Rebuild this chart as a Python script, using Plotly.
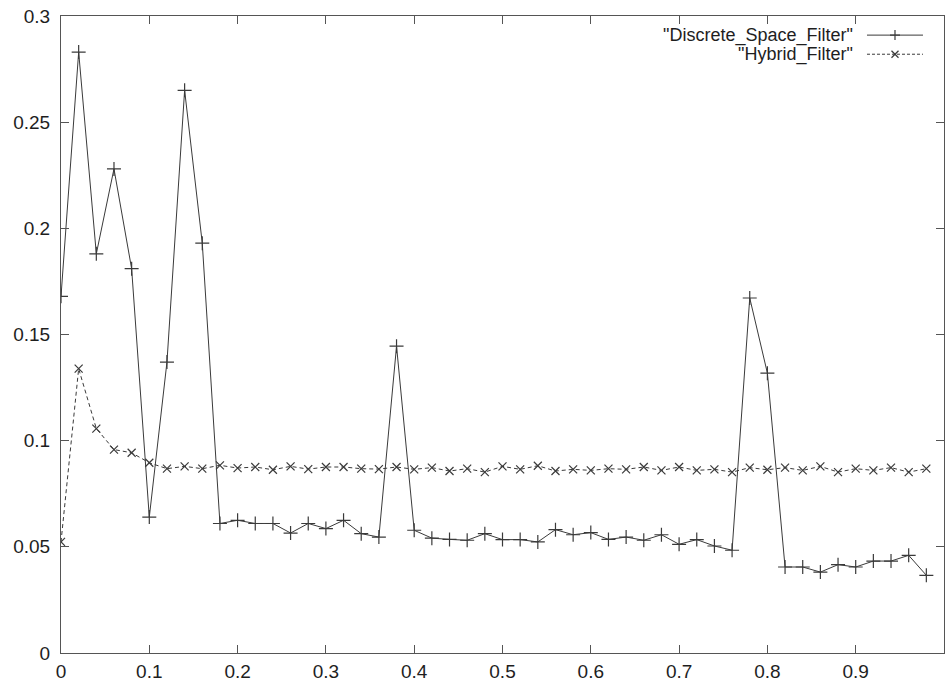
import plotly.graph_objects as go

x_vals = [round(i * 0.02, 2) for i in range(50)]

discrete_space_filter = [
    0.168, 0.283, 0.188, 0.228, 0.181, 0.064, 0.137, 0.265, 0.193, 0.061,
    0.0625, 0.061, 0.061, 0.0565, 0.061, 0.0586, 0.0625, 0.0562, 0.0546, 0.1445,
    0.0578, 0.0541, 0.0535, 0.0531, 0.0562, 0.0534, 0.0534, 0.0523, 0.0581, 0.0557,
    0.0567, 0.0535, 0.0546, 0.0531, 0.0557, 0.0512, 0.0534, 0.0504, 0.0484, 0.1672,
    0.1318, 0.0405, 0.0405, 0.0381, 0.0416, 0.0405, 0.0433, 0.0433, 0.046, 0.0366,
]

hybrid_filter = [
    0.0523, 0.1339, 0.1057, 0.0958, 0.0943, 0.0896, 0.0868, 0.0879, 0.0868, 0.0884,
    0.0871, 0.0876, 0.0863, 0.0879, 0.0866, 0.0876, 0.0876, 0.0868, 0.0866, 0.0876,
    0.0865, 0.0873, 0.0857, 0.0868, 0.0852, 0.0879, 0.0865, 0.0882, 0.0857, 0.0865,
    0.086, 0.0868, 0.0865, 0.0876, 0.086, 0.0876, 0.086, 0.0865, 0.0852, 0.0873,
    0.0863, 0.0873, 0.086, 0.0879, 0.0852, 0.0868, 0.086, 0.0873, 0.0852, 0.0868,
]

series_names = ['"Discrete_Space_Filter"', '"Hybrid_Filter"']

x_ticks = [0, 0.1, 0.2, 0.3, 0.4, 0.5, 0.6, 0.7, 0.8, 0.9, 1]
x_tick_labels = ["0", "0.1", "0.2", "0.3", "0.4", "0.5", "0.6", "0.7", "0.8", "0.9", "1"]
y_ticks = [0, 0.05, 0.1, 0.15, 0.2, 0.25, 0.3]
y_tick_labels = ["0", "0.05", "0.1", "0.15", "0.2", "0.25", "0.3"]

line_color = "#3a3a3a"
text_color = "#1e1e1e"
font_family = "Liberation Sans, Arial, sans-serif"

fig = go.Figure()
fig.add_trace(go.Scatter(
    x=x_vals, y=discrete_space_filter, mode="lines+markers",
    name=series_names[0], showlegend=False,
    line=dict(color=line_color, width=1),
    marker=dict(symbol="cross-thin", size=10, line=dict(color=line_color, width=1.2)),
))
fig.add_trace(go.Scatter(
    x=x_vals, y=hybrid_filter, mode="lines+markers",
    name=series_names[1], showlegend=False,
    line=dict(color=line_color, width=1, dash="4px,3px"),
    marker=dict(symbol="x-thin", size=8, line=dict(color=line_color, width=1.2)),
))

axis_common = dict(
    showgrid=False, zeroline=False, showline=True, linecolor="#555555", linewidth=1,
    mirror="allticks", ticks="inside", ticklen=8, tickcolor="#555555", tickwidth=1,
    tickfont=dict(family=font_family, size=19, color=text_color),
)

# Manual gnuplot-style key: right-aligned text, sample line to the right
key_text_x = 0.899
key_sample_x = 0.9445
key_rows_y = [0.970, 0.940]

shapes = []
annotations = []
for i, name in enumerate(series_names):
    yy = key_rows_y[i]
    annotations.append(dict(
        x=key_text_x, y=yy, xref="paper", yref="paper", text=name,
        showarrow=False, xanchor="right", yanchor="middle",
        font=dict(family=font_family, size=18, color=text_color),
    ))
    shapes.append(dict(
        type="line", xref="paper", yref="paper",
        xsizemode="pixel", xanchor=key_sample_x, x0=-28, x1=28,
        ysizemode="pixel", yanchor=yy, y0=0, y1=0,
        line=dict(color=line_color, width=1, dash="solid" if i == 0 else "3px,2px"),
    ))
    if i == 0:
        segs = [(0, -5, 0, 5), (-5, 0, 5, 0)]
    else:
        segs = [(-3.5, -3.5, 3.5, 3.5), (-3.5, 3.5, 3.5, -3.5)]
    for (a, b, c, d) in segs:
        shapes.append(dict(
            type="line", xref="paper", yref="paper",
            xsizemode="pixel", xanchor=key_sample_x, x0=a, x1=c,
            ysizemode="pixel", yanchor=yy, y0=b, y1=d,
            line=dict(color=line_color, width=1.2),
        ))

fig.update_layout(
    width=945, height=685,
    margin=dict(l=61, r=1, t=16, b=32),
    paper_bgcolor="white", plot_bgcolor="white",
    font=dict(family=font_family, size=18, color=text_color),
    showlegend=False,
    xaxis=dict(range=[0, 1], tickvals=x_ticks, ticktext=x_tick_labels,
               ticklabelstandoff=1, **axis_common),
    yaxis=dict(range=[0, 0.3], tickvals=y_ticks, ticktext=y_tick_labels,
               ticklabelstandoff=6, **axis_common),
    shapes=shapes,
    annotations=annotations,
)

fig.write_html("out.html", config={"displayModeBar": False},
               post_script="document.body.style.margin='0';")
